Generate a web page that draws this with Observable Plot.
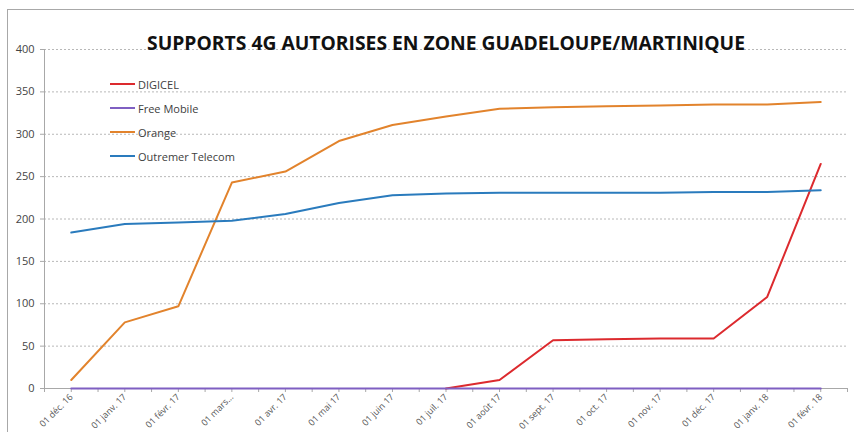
<!DOCTYPE html>
<html>
<head>
<meta charset="utf-8">
<script src="https://cdn.jsdelivr.net/npm/d3@7"></script>
<script src="https://cdn.jsdelivr.net/npm/@observablehq/plot@0.6"></script>
<style>
  html, body { margin: 0; padding: 0; background: #fff; overflow: hidden; }
  #wrap { position: relative; width: 854px; height: 432px; font-family: "Open Sans", "Liberation Sans", sans-serif; }
  #frame { position: absolute; left: 7px; top: 9px; width: 900px; height: 500px; border: 1px solid #a8a8a8; box-sizing: border-box; pointer-events: none; }
  #legend { position: absolute; left: 110px; top: 72px; font-size: 11px; color: #404040; }
  .item { display: flex; align-items: center; height: 24px; }
  .sw { width: 25px; height: 2.5px; margin-right: 3px; }
</style>
</head>
<body>
<div id="wrap">
  <div id="chart"></div>
  <div id="legend"></div>
  <div id="frame"></div>
</div>
<script>
const title = "SUPPORTS 4G AUTORISES EN ZONE GUADELOUPE/MARTINIQUE";
const months = ["01 déc. 16", "01 janv. 17", "01 févr. 17", "01 mars...", "01 avr. 17", "01 mai 17", "01 juin 17", "01 juil. 17", "01 août 17", "01 sept. 17", "01 oct. 17", "01 nov. 17", "01 déc. 17", "01 janv. 18", "01 févr. 18"];
const seriesNames = ["DIGICEL", "Free Mobile", "Orange", "Outremer Telecom"];
const seriesColors = ["#dc2a2e", "#7f5fc2", "#e2832c", "#2a7bbd"];
const digicel = [null, null, null, null, null, null, null, 0, 10, 57, 58, 59, 59, 108, 265];
const freeMobile = [0, 0, 0, 0, 0, 0, 0, 0, 0, 0, 0, 0, 0, 0, 0];
const orange = [10, 78, 97, 243, 256, 292, 311, 321, 330, 332, 333, 334, 335, 335, 338];
const outremer = [184, 194, 196, 198, 206, 219, 228, 230, 231, 231, 231, 231, 232, 232, 234];
const yTicks = [0, 50, 100, 150, 200, 250, 300, 350, 400];

const allValues = [digicel, freeMobile, orange, outremer];
const data = seriesNames.flatMap((s, si) => allValues[si].map((v, i) => ({series: s, i, v})));
const xTicks = d3.range(-0.5, months.length - 0.5 + 0.01, 0.5);

const chart = Plot.plot({
  width: 854,
  height: 432,
  marginTop: 49,
  marginBottom: 44,
  marginLeft: 44,
  marginRight: 7,
  style: {fontFamily: "'Open Sans', 'Liberation Sans', sans-serif", background: "#fff"},
  x: {domain: [-0.5, months.length - 0.5], axis: null},
  y: {domain: [0, 400], axis: null},
  color: {domain: seriesNames, range: seriesColors},
  marks: [
    Plot.gridY(yTicks.filter(d => d > 0), {stroke: "#b8b8b8", strokeOpacity: 1, strokeDasharray: "2,2", strokeWidth: 1}),
    Plot.ruleY([0], {stroke: "#a8a8a8", strokeWidth: 1}),
    Plot.ruleX([-0.5], {stroke: "#a8a8a8", strokeWidth: 1}),
    Plot.axisY({ticks: yTicks, tickSize: 4, tickPadding: 6, fontSize: 11, fill: "#444", stroke: "#a8a8a8", label: null}),
    Plot.axisX({ticks: xTicks, tickSize: 4, tickPadding: 3, tickRotate: -45, fontSize: 9, fill: "#555", stroke: "#a8a8a8", label: null,
      tickFormat: d => Number.isInteger(d) ? months[d] : ""}),
    Plot.line(data, {x: "i", y: "v", z: "series", stroke: "series", strokeWidth: 2}),
    Plot.text([title], {frameAnchor: "top", dy: -14, fontSize: 20, fontWeight: "bold", fill: "#111", className: "ttl"})
  ]
});
document.getElementById("chart").appendChild(chart);
const t = chart.querySelector(".ttl text") || chart.querySelector("g.ttl text");
if (t) { t.setAttribute("textLength", 598); t.setAttribute("lengthAdjust", "spacingAndGlyphs"); }

const legend = d3.select("#legend");
seriesNames.forEach((s, i) => {
  const it = legend.append("div").attr("class", "item");
  it.append("div").attr("class", "sw").style("background", seriesColors[i]);
  it.append("span").text(s);
});
</script>
</body>
</html>
